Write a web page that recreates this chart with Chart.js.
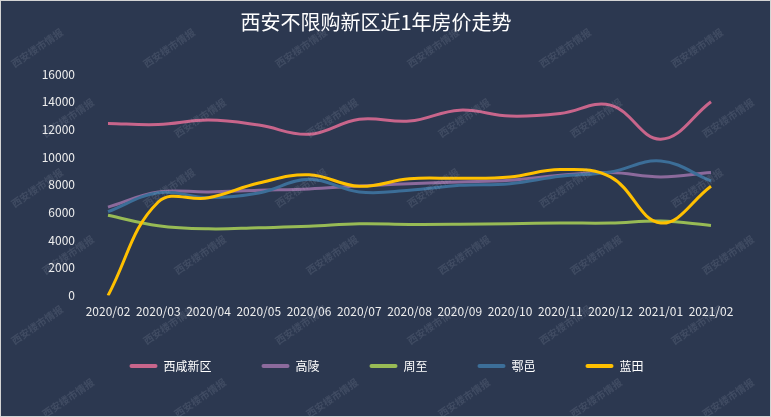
<!DOCTYPE html>
<html>
<head>
<meta charset="utf-8">
<script src="https://cdn.jsdelivr.net/npm/chart.js@4.4.1/dist/chart.umd.min.js"></script>
<style>
html, body { margin: 0; padding: 0; background: #ffffff; }
#box { width: 771px; height: 417px; box-sizing: border-box; border: 1px solid #d4d4d4; background: #2c3850; }
canvas { display: block; }
</style>
</head>
<body>
<div id="box"><canvas id="graphs" width="769" height="415"></canvas></div>
<script>
// Données
var mois = ["2020/02", "2020/03", "2020/04", "2020/05", "2020/06", "2020/07", "2020/08", "2020/09", "2020/10", "2020/11", "2020/12", "2021/01", "2021/02"];
var xixian = [12430, 12350, 12670, 12310, 11650, 12740, 12600, 13390, 12960, 13150, 13750, 11290, 14000];
var gaoling = [6390, 7480, 7480, 7600, 7700, 7920, 8080, 8200, 8330, 8690, 8880, 8570, 8880];
var zhouzhi = [5800, 5050, 4820, 4900, 5000, 5190, 5140, 5150, 5190, 5240, 5240, 5380, 5070];
var huyi = [6060, 7430, 7080, 7410, 8400, 7480, 7600, 7960, 8080, 8610, 8930, 9720, 8280];
var lantian = [0, 6760, 7060, 8130, 8730, 7890, 8440, 8470, 8570, 9100, 8570, 5240, 7890];
var yTicks = [0, 2000, 4000, 6000, 8000, 10000, 12000, 14000, 16000];

var police = "'Noto Sans CJK SC', 'Noto Sans', sans-serif";

//Filigrane "西安楼市情报" dessiné par-dessus le graphique
var filigrane = {
    id: "filigrane",
    afterDraw: function(chart) {
        var ctx = chart.ctx;
        var rangs = [
            {y: 47, x0: 36}, {y: 117, x0: 67}, {y: 187, x0: 36},
            {y: 254, x0: 67}, {y: 324, x0: 36}, {y: 397, x0: 67}
        ];
        ctx.save();
        ctx.font = "bold 10px " + police;
        ctx.fillStyle = "rgba(200, 210, 225, 0.13)";
        ctx.textAlign = "center";
        ctx.textBaseline = "middle";
        rangs.forEach(function(r) {
            for (var k = 0; k < 6; k++) {
                ctx.save();
                ctx.translate(r.x0 + k * 132, r.y);
                ctx.rotate(-0.6);
                ctx.fillText("西安楼市情报", 0, 0);
                ctx.restore();
            }
        });
        ctx.restore();
    }
};

//On remonte un peu la légende et on la recentre comme sur l'original
var placeLegende = {
    id: "placeLegende",
    afterLayout: function(chart) {
        var lg = chart.legend;
        if (lg) {
            lg.top -= 18;
            lg.bottom -= 18;
            lg.left += 21;
        }
    }
};

function serie(nom, valeurs, couleur, ordre) {
    return {
        label: nom,
        data: valeurs,
        borderColor: couleur,
        backgroundColor: couleur,
        borderWidth: 3,
        pointRadius: 0,
        pointHoverRadius: 0,
        tension: 0.4,
        fill: false,
        order: ordre
    };
}

var ctx = document.getElementById("graphs").getContext("2d");
window.myChart = new Chart(ctx, {
    type: "line",
    data: {
        labels: mois,
        datasets: [
            serie("西咸新区", xixian, "#c8658b", 4),
            serie("高陵", gaoling, "#8c6a9c", 3),
            serie("周至", zhouzhi, "#98bb55", 2),
            serie("鄠邑", huyi, "#3c6e98", 1),
            serie("蓝田", lantian, "#ffc000", 0)
        ]
    },
    options: {
        responsive: false,
        animation: false,
        layout: {
            padding: {left: 40, right: 59, top: 0, bottom: 16}
        },
        scales: {
            x: {
                offset: false,
                grid: {display: false, drawTicks: false},
                border: {display: false},
                ticks: {
                    color: "#eeeeee",
                    font: {family: police, size: 12},
                    padding: 9,
                    autoSkip: false,
                    maxRotation: 0,
                    minRotation: 0
                }
            },
            y: {
                min: 0,
                max: 16000,
                grid: {display: false, drawTicks: false},
                border: {display: false},
                afterBuildTicks: function(axe) {
                    axe.ticks = yTicks.map(function(v) { return {value: v}; });
                },
                ticks: {
                    color: "#eeeeee",
                    font: {family: police, size: 12},
                    padding: 33,
                    callback: function(v) { return String(v); }
                },
                afterFit: function(axe) { axe.width = 67; }
            }
        },
        plugins: {
            title: {
                display: true,
                text: "西安不限购新区近1年房价走势",
                color: "#ffffff",
                font: {family: police, size: 20, weight: "normal"},
                padding: {top: 9, bottom: 40}
            },
            legend: {
                position: "bottom",
                labels: {
                    color: "#ffffff",
                    font: {family: police, size: 12},
                    boxWidth: 28,
                    boxHeight: 4,
                    useBorderRadius: true,
                    borderRadius: 2,
                    padding: 50,
                    sort: function(a, b) { return a.datasetIndex - b.datasetIndex; },
                    generateLabels: function(chart) {
                        var items = Chart.defaults.plugins.legend.labels.generateLabels(chart);
                        items.forEach(function(it) { it.lineWidth = 0; });
                        return items;
                    }
                }
            },
            tooltip: {enabled: false}
        }
    },
    plugins: [filigrane, placeLegende]
});
</script>
</body>
</html>
